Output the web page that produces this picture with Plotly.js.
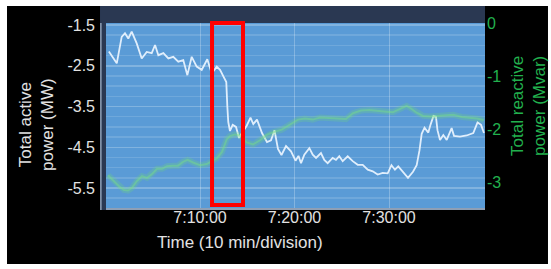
<!DOCTYPE html>
<html>
<head>
<meta charset="utf-8">
<script src="https://cdn.plot.ly/plotly-3.0.1.min.js"></script>
<style>
html,body{margin:0;padding:0;background:#fff;}
#chart{width:551px;height:269px;}
</style>
</head>
<body>
<div id="chart"></div>
<script>
// Time in minutes after 7:00:00
const activeTime = [0.35,0.48,1.19,1.71,2.06,2.41,2.77,3.30,3.83,4.36,4.89,5.24,5.59,6.12,6.65,7.17,7.70,8.23,8.66,9.12,9.65,10.18,10.77,11.24,11.77,12.12,12.54,12.78,12.89,12.99,13.17,13.46,13.81,14.13,14.41,14.94,15.34,15.64,16.03,16.56,17.09,17.51,17.88,18.25,18.62,19.10,19.63,20.11,20.42,20.69,21.04,21.57,21.93,22.28,22.80,23.15,23.51,24.04,24.39,24.74,25.10,25.63,26.16,26.69,27.22,27.75,28.28,28.80,29.33,29.86,30.26,30.63,30.98,31.48,32.01,32.54,32.93,33.23,33.46,33.76,34.16,34.39,34.71,34.97,35.13,35.40,35.75,36.11,36.63,36.88,37.51,38.22,38.92,39.37,39.74,40.05];
const activePower = [-2.15,-2.19,-2.44,-1.79,-1.70,-1.83,-1.66,-1.95,-2.32,-2.16,-2.19,-1.99,-2.24,-2.19,-2.32,-2.28,-2.40,-2.36,-2.73,-2.28,-2.52,-2.60,-2.34,-2.69,-2.52,-2.60,-2.79,-2.90,-3.50,-3.88,-4.10,-3.95,-4.00,-4.27,-4.16,-3.97,-3.77,-3.93,-3.82,-4.15,-4.37,-4.33,-4.08,-4.54,-4.69,-4.47,-4.60,-4.83,-4.71,-4.89,-4.68,-4.52,-4.68,-4.76,-4.64,-4.81,-4.89,-4.76,-4.81,-4.72,-4.84,-4.72,-4.84,-4.93,-4.93,-5.05,-5.09,-5.17,-5.13,-5.14,-4.94,-5.05,-4.97,-5.11,-5.25,-5.10,-4.94,-4.57,-4.17,-4.02,-4.14,-3.95,-3.73,-3.75,-4.08,-4.32,-4.20,-4.32,-4.03,-4.22,-4.24,-4.21,-4.15,-3.89,-3.95,-4.15];

const reactiveTime = [0.26,0.53,1.01,1.43,1.96,2.38,2.80,3.33,3.86,4.39,4.92,5.45,5.98,6.51,7.14,7.67,8.20,8.68,9.26,10.00,10.71,11.27,11.80,12.33,12.83,13.17,13.70,14.23,14.94,15.61,16.35,17.06,17.72,18.65,19.52,20.37,21.11,21.93,22.70,23.65,24.50,25.45,26.19,27.04,27.94,28.84,29.74,30.42,31.16,31.87,32.33,32.93,33.60,34.34,35.08,35.93,36.80,37.72,38.57,39.31,40.05];
const reactivePower = [-2.87,-2.92,-3.00,-3.08,-3.15,-3.16,-3.11,-2.98,-2.89,-2.92,-2.85,-2.75,-2.75,-2.70,-2.69,-2.69,-2.62,-2.58,-2.63,-2.68,-2.66,-2.60,-2.55,-2.43,-2.19,-2.13,-2.10,-2.12,-2.25,-2.29,-2.21,-2.11,-2.06,-2.01,-1.92,-1.82,-1.80,-1.82,-1.78,-1.79,-1.80,-1.81,-1.70,-1.65,-1.64,-1.66,-1.67,-1.68,-1.62,-1.56,-1.61,-1.69,-1.75,-1.76,-1.75,-1.74,-1.73,-1.77,-1.78,-1.80,-1.83];

const xTickVals = [10, 20, 30];
const xTickText = ['7:10:00', '7:20:00', '7:30:00'];
const leftTickVals = [-1.5, -2.5, -3.5, -4.5, -5.5];
const leftTickText = ['-1.5', '-2.5', '-3.5', '-4.5', '-5.5'];
const rightTickVals = [0, -1, -2, -3];
const rightTickText = ['0', '-1', '-2', '-3'];
const highlightStart = 11.27, highlightEnd = 14.55;

const green = '#22b04e';
const textWhite = '#e2e2e2';

const traces = [
  {x: reactiveTime, y: reactivePower, yaxis: 'y2', type: 'scatter', mode: 'lines',
   line: {color: 'rgba(110,215,120,0.25)', width: 6}, hoverinfo: 'skip'},
  {x: reactiveTime, y: reactivePower, yaxis: 'y2', type: 'scatter', mode: 'lines',
   line: {color: 'rgba(120,225,130,0.45)', width: 2}},
  {x: activeTime, y: activePower, type: 'scatter', mode: 'lines',
   line: {color: 'rgba(235,245,255,0.92)', width: 1.8}}
];

const layout = {
  width: 551, height: 269,
  margin: {l: 106, r: 66, t: 23, b: 61, pad: 0},
  paper_bgcolor: '#ffffff',
  plot_bgcolor: 'rgba(0,0,0,0)',
  showlegend: false,
  font: {family: 'Liberation Sans, Arial, sans-serif', size: 16, color: textWhite},
  xaxis: {
    range: [0.05, 40.16], tickmode: 'array', tickvals: xTickVals, ticktext: xTickText,
    showgrid: true, gridcolor: 'rgba(255,255,255,0.25)', gridwidth: 1,
    zeroline: false, showline: true, linecolor: '#8e9fb5', linewidth: 2,
    ticks: '', tickfont: {size: 16, color: textWhite}, ticklabelstandoff: -6
  },
  yaxis: {
    range: [-5.99, -1.45], tickmode: 'array', tickvals: leftTickVals, ticktext: leftTickText,
    showgrid: true, gridcolor: 'rgba(255,255,255,0.13)', gridwidth: 1.5,
    minor: {tickmode: 'linear', tick0: -1.5, dtick: 0.25, showgrid: true, gridcolor: 'rgba(255,255,255,0.13)', gridwidth: 1.5, ticks: ''},
    zeroline: false, showline: false, ticks: '',
    tickfont: {size: 16, color: textWhite}, ticklabelstandoff: 10
  },
  yaxis2: {
    overlaying: 'y', side: 'right', range: [-3.49, 0.005],
    tickmode: 'array', tickvals: rightTickVals, ticktext: rightTickText,
    showgrid: false, zeroline: false, showline: false, ticks: '',
    tickfont: {size: 16, color: green}, ticklabelstandoff: 1
  },
  shapes: [
    {type: 'rect', xref: 'paper', yref: 'paper', x0: -0.2612, x1: 1.1662, y0: -0.3027, y1: 1.0919,
     fillcolor: '#000000', line: {width: 0}, layer: 'below'},
    {type: 'rect', xref: 'paper', yref: 'paper', x0: -0.0158, x1: 1, y0: -0.011, y1: 1.0919,
     fillcolor: '#2a3852', line: {width: 0}, layer: 'below'},
    {type: 'line', xref: 'paper', yref: 'paper', x0: -0.0135, x1: -0.0135, y0: -0.011, y1: 1.0,
     line: {color: '#8e9fb5', width: 1.5}, layer: 'below'},
    {type: 'rect', xref: 'paper', yref: 'paper', x0: 0, x1: 1, y0: 0, y1: 1,
     fillcolor: '#5a9bd6', line: {width: 0}, layer: 'below'},
    {type: 'rect', xref: 'x', yref: 'paper', x0: highlightStart, x1: highlightEnd, y0: 0.016, y1: 1.0,
     fillcolor: 'rgba(0,0,0,0)', line: {color: '#ff0000', width: 4}}
  ],
  annotations: [
    {text: 'Total active<br>power (MW)', xref: 'paper', yref: 'paper', x: -0.182, y: 0.449,
     textangle: -90, showarrow: false, font: {size: 17, color: textWhite}, xanchor: 'center', yanchor: 'middle'},
    {text: 'Total reactive<br>power (Mvar)', xref: 'paper', yref: 'paper', x: 1.113, y: 0.551,
     textangle: -90, showarrow: false, font: {size: 17, color: green}, xanchor: 'center', yanchor: 'middle'},
    {text: 'Time (10 min/division)', xref: 'paper', yref: 'paper', x: 0.354, y: -0.189,
     showarrow: false, font: {size: 17, color: textWhite}, xanchor: 'center', yanchor: 'middle'}
  ]
};

Plotly.newPlot('chart', traces, layout, {displayModeBar: false, staticPlot: true});
</script>
</body>
</html>
